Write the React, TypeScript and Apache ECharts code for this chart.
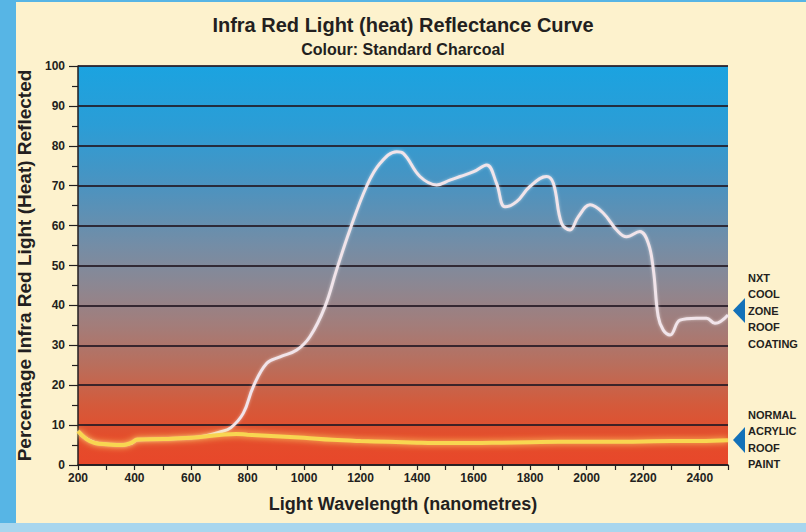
import React, { useEffect, useRef } from "react";
import * as echarts from "echarts";

const coolWavelengths = [200, 220, 260, 300, 360, 390, 410, 500, 600, 650, 700, 740, 785, 820, 868, 915, 974, 1021, 1074, 1115, 1162, 1221, 1269, 1328, 1351, 1410, 1469, 1516, 1552, 1600, 1646, 1681, 1711, 1752, 1799, 1858, 1882, 1911, 1941, 1970, 2012, 2059, 2106, 2141, 2188, 2218, 2236, 2253, 2271, 2295, 2330, 2389, 2424, 2454, 2500];
const coolValues = [8.5, 7, 5.6, 5.2, 5, 5.5, 6.3, 6.5, 6.8, 7.3, 8.2, 9.3, 13, 19.6, 25.5, 27.1, 28.8, 32.2, 39.7, 48.9, 58.9, 69.8, 75.6, 78.5, 78.1, 72.3, 70.2, 71.4, 72.3, 73.5, 75.2, 70.6, 64.7, 66, 69.8, 72.3, 70.6, 60.6, 58.9, 62.2, 65.2, 63.1, 58.9, 57.2, 58.5, 55.6, 48.9, 37.2, 33.8, 32.6, 36.3, 36.8, 36.8, 35.5, 37.6];

const acrylicWavelengths = [200, 230, 260, 300, 360, 390, 410, 500, 600, 700, 760, 800, 900, 1000, 1100, 1200, 1300, 1400, 1500, 1600, 1700, 1800, 1900, 2000, 2100, 2200, 2300, 2400, 2500];
const acrylicValues = [8.5, 6.5, 5.5, 5.2, 5, 5.6, 6.4, 6.5, 6.8, 7.5, 7.8, 7.6, 7.2, 6.8, 6.3, 6, 5.8, 5.6, 5.5, 5.5, 5.6, 5.7, 5.8, 5.8, 5.8, 5.9, 6, 6, 6.2];

const titleText = "Infra Red Light (heat) Reflectance Curve";
const subtitleText = "Colour: Standard Charcoal";
const xAxisName = "Light Wavelength (nanometres)";
const yAxisName = "Percentage Infra Red Light (Heat) Reflected";
const coolLabel = ["NXT", "COOL", "ZONE", "ROOF", "COATING"];
const acrylicLabel = ["NORMAL", "ACRYLIC", "ROOF", "PAINT"];

const DARK = "#231f20";
const SANS = "'Liberation Sans', Arial, sans-serif";

export default function App() {
  const ref = useRef<HTMLDivElement>(null);
  useEffect(() => {
    if (!ref.current) return;
    const chart = echarts.init(ref.current, null, { renderer: "svg" });
    const labelLines = (lines: string[], y0: number) =>
      lines.map((t, i) => ({
        type: "text",
        left: 748,
        top: y0 + i * 16.5,
        style: { text: t, fill: DARK, font: `bold 11px ${SANS}` },
      }));
    chart.setOption({
      animation: false,
      backgroundColor: "transparent",
      title: [
        {
          text: titleText,
          left: "center",
          top: 10,
          textStyle: { fontFamily: SANS, fontWeight: "bold", fontSize: 20, color: DARK },
        },
        {
          text: subtitleText,
          left: "center",
          top: 36,
          textStyle: { fontFamily: SANS, fontWeight: "bold", fontSize: 16, color: DARK },
        },
      ],
      grid: {
        left: 78,
        right: 78,
        top: 66,
        bottom: 67,
        show: true,
        borderWidth: 0,
        backgroundColor: new echarts.graphic.LinearGradient(0, 0, 0, 1, [
          { offset: 0, color: "#1ba3e0" },
          { offset: 0.15, color: "#2b9dd6" },
          { offset: 0.3, color: "#4b93c0" },
          { offset: 0.45, color: "#748da6" },
          { offset: 0.55, color: "#8c8792" },
          { offset: 0.65, color: "#a37d7a" },
          { offset: 0.75, color: "#b96e5c" },
          { offset: 0.85, color: "#d45a3b" },
          { offset: 0.93, color: "#e44d2b" },
          { offset: 1, color: "#e8472a" },
        ]),
      },
      xAxis: {
        type: "value",
        min: 200,
        max: 2500,
        interval: 100,
        name: xAxisName,
        nameLocation: "middle",
        nameGap: 30,
        nameTextStyle: { fontFamily: SANS, fontWeight: "bold", fontSize: 18, color: DARK },
        axisLine: { show: true, lineStyle: { color: DARK, width: 1.5 } },
        axisTick: { show: true, length: 5, lineStyle: { color: DARK, width: 1.2 } },
        axisLabel: {
          margin: 7,
          fontFamily: SANS,
          fontWeight: "bold",
          fontSize: 12,
          color: DARK,
          formatter: (v: number) => (v % 200 === 0 && v < 2500 ? String(v) : ""),
        },
        splitLine: { show: false },
      },
      yAxis: {
        type: "value",
        min: 0,
        max: 100,
        interval: 10,
        name: yAxisName,
        nameLocation: "middle",
        nameGap: 38,
        nameRotate: 90,
        nameTextStyle: { fontFamily: SANS, fontWeight: "bold", fontSize: 19, color: DARK },
        axisLine: { show: true, lineStyle: { color: DARK, width: 1.5 } },
        axisTick: { show: true, length: 9, lineStyle: { color: DARK, width: 1.2 } },
        minorTick: { show: true, splitNumber: 2, length: 6, lineStyle: { color: DARK, width: 1.2 } },
        axisLabel: { margin: 13, fontFamily: SANS, fontWeight: "bold", fontSize: 12, color: DARK },
        splitLine: { show: true, lineStyle: { color: "rgba(35,25,35,0.85)", width: 2 } },
      },
      series: [
        {
          type: "line",
          name: "NXT Cool Zone Roof Coating",
          data: coolWavelengths.map((w, i) => [w, coolValues[i]]),
          smooth: 0.4,
          showSymbol: false,
          lineStyle: { color: "#f1e4ea", width: 3, shadowBlur: 3, shadowColor: "rgba(255,255,255,0.5)" },
          z: 3,
        },
        {
          type: "line",
          name: "Normal Acrylic Roof Paint",
          data: acrylicWavelengths.map((w, i) => [w, acrylicValues[i]]),
          smooth: 0.4,
          showSymbol: false,
          lineStyle: { color: "#f8d651", width: 4, shadowBlur: 6, shadowColor: "rgba(255,225,110,0.9)" },
          z: 4,
        },
      ],
      graphic: [
        { type: "polygon", shape: { points: [[745, 298], [745, 323], [733, 310.5]] }, style: { fill: "#1371b9" } },
        { type: "polygon", shape: { points: [[745, 427], [745, 453], [733, 440]] }, style: { fill: "#1371b9" } },
        ...labelLines(coolLabel, 272),
        ...labelLines(acrylicLabel, 409),
      ],
    });
    return () => chart.dispose();
  }, []);
  return (
    <div style={{ position: "fixed", left: 0, top: 0, width: 806, height: 532, background: "#57b5e5" }}>
      <div style={{ position: "absolute", left: 0, top: 523, width: 806, height: 9, background: "#a8d6ee" }} />
      <div style={{ position: "absolute", left: 16, top: 2, width: 790, height: 521, background: "#fdf2cd" }} />
      <div ref={ref} style={{ position: "absolute", left: 0, top: 0, width: 806, height: 532 }} />
    </div>
  );
}
